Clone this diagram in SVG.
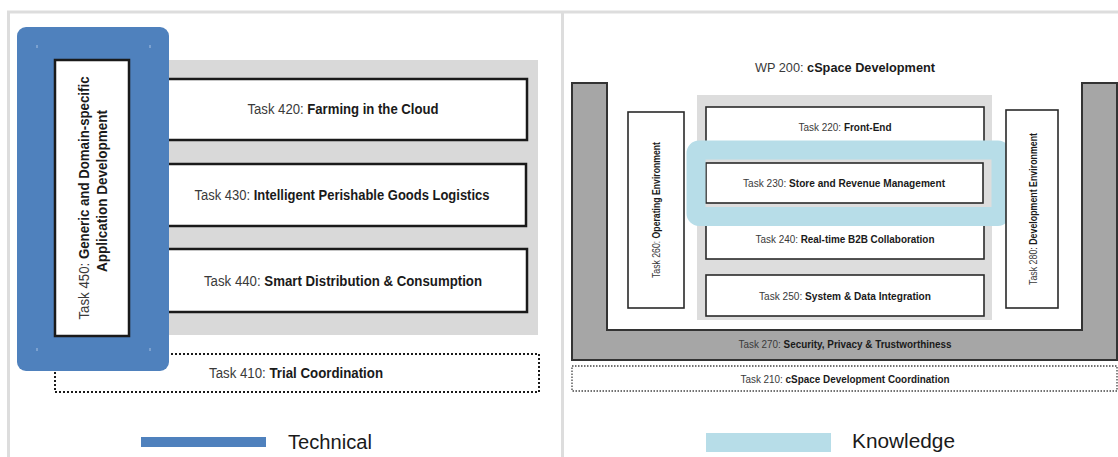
<svg xmlns="http://www.w3.org/2000/svg" width="1118" height="457" viewBox="0 0 1118 457">
<style>
text{font-family:"Liberation Sans",Arial,sans-serif;fill:#1a1a1a}
.n{font-weight:normal;fill:#3a3a3a}
.b{font-weight:bold}
.lt{font-size:14px}
.rt{font-size:10px}
.frame{stroke:#DDDDDD;stroke-width:3;fill:none}
.lbox{fill:#fff;stroke:#1a1a1a;stroke-width:2.5}
.rbox{fill:#fff;stroke:#2a2a2a;stroke-width:1.6}
.grey{fill:#D9D9D9}
</style>
<rect width="1118" height="457" fill="#fff"/>
<g id="frame">
<path class="frame" d="M8.5,457 V12 H1118 M562.5,12 V457"/>
</g>
<g id="connectors"/>
<!-- Left panel -->
<g id="wp400-bg"><rect class="grey" x="150" y="60" width="388" height="275"/></g>
<g id="task420"><rect class="lbox" x="150" y="79" width="377" height="61"/>
<text class="lt" x="343" y="114" text-anchor="middle" textLength="191" lengthAdjust="spacingAndGlyphs"><tspan class="n">Task 420: </tspan><tspan class="b">Farming in the Cloud</tspan></text></g>
<g id="task430"><rect class="lbox" x="150" y="164" width="376" height="62"/>
<text class="lt" x="342" y="200" text-anchor="middle" textLength="295" lengthAdjust="spacingAndGlyphs"><tspan class="n">Task 430: </tspan><tspan class="b">Intelligent Perishable Goods Logistics</tspan></text></g>
<g id="task440"><rect class="lbox" x="150" y="249" width="377" height="63"/>
<text class="lt" x="343" y="286" text-anchor="middle" textLength="278" lengthAdjust="spacingAndGlyphs"><tspan class="n">Task 440: </tspan><tspan class="b">Smart Distribution &amp; Consumption</tspan></text></g>
<g id="task410"><rect x="55" y="354" width="484" height="38" fill="#fff" stroke="#1a1a1a" stroke-width="2" stroke-dasharray="2 2"/>
<text class="lt" x="296" y="378" text-anchor="middle" textLength="174" lengthAdjust="spacingAndGlyphs"><tspan class="n">Task 410: </tspan><tspan class="b">Trial Coordination</tspan></text></g>
<g id="technical-highlight"><rect x="17" y="27" width="152" height="344" rx="9" fill="#4F81BD"/>
<g stroke="#A9C1E2" stroke-width="1"><line x1="37" y1="45" x2="37" y2="48"/><line x1="150" y1="45" x2="150" y2="48"/><line x1="37" y1="348" x2="37" y2="351"/><line x1="150" y1="348" x2="150" y2="351"/></g></g>
<g id="task450"><rect class="lbox" x="55" y="60" width="74" height="276"/>
<text class="lt" transform="translate(89,198) rotate(-90)" text-anchor="middle" textLength="243" lengthAdjust="spacingAndGlyphs"><tspan class="n">Task 450: </tspan><tspan class="b">Generic and Domain-specific</tspan></text>
<text class="lt b" transform="translate(107,191) rotate(-90)" text-anchor="middle" textLength="162" lengthAdjust="spacingAndGlyphs">Application Development</text></g>
<g id="legend-technical"><rect x="141" y="437" width="125" height="10" fill="#4F81BD"/>
<text x="288" y="449" font-size="20" textLength="84" lengthAdjust="spacingAndGlyphs" fill="#262626">Technical</text></g>
<!-- Right panel -->
<g id="wp200-title"><text x="845" y="72" font-size="13" text-anchor="middle" textLength="180" lengthAdjust="spacingAndGlyphs"><tspan class="n">WP 200: </tspan><tspan class="b">cSpace Development</tspan></text></g>
<g id="task270"><path d="M572,83 H607 V330 H1082 V83 H1117 V360 H572 Z" fill="#A6A6A6" stroke="#333" stroke-width="2"/>
<text class="rt" x="845" y="347.5" text-anchor="middle" textLength="213" lengthAdjust="spacingAndGlyphs"><tspan class="n">Task 270: </tspan><tspan class="b">Security, Privacy &amp; Trustworthiness</tspan></text></g>
<g id="task210"><rect x="572" y="366" width="545" height="25" fill="#fff" stroke="#444" stroke-width="1.3" stroke-dasharray="1.5 1.5"/>
<text class="rt" x="845" y="382.5" text-anchor="middle" textLength="209" lengthAdjust="spacingAndGlyphs"><tspan class="n">Task 210: </tspan><tspan class="b">cSpace Development Coordination</tspan></text></g>
<g id="core-bg"><rect x="697" y="95" width="295" height="225" fill="#DDDDDD"/></g>
<g id="task220"><rect class="rbox" x="706" y="107" width="278" height="41"/>
<text class="rt" x="845" y="130.5" text-anchor="middle" textLength="93" lengthAdjust="spacingAndGlyphs"><tspan class="n">Task 220: </tspan><tspan class="b">Front-End</tspan></text></g>
<g id="task230"><rect class="rbox" x="706" y="163" width="277" height="40"/>
<text class="rt" x="844" y="186.5" text-anchor="middle" textLength="202" lengthAdjust="spacingAndGlyphs"><tspan class="n">Task 230: </tspan><tspan class="b">Store and Revenue Management</tspan></text></g>
<g id="task240"><rect class="rbox" x="706" y="218" width="278" height="41"/>
<text class="rt" x="845" y="242.5" text-anchor="middle" textLength="179" lengthAdjust="spacingAndGlyphs"><tspan class="n">Task 240: </tspan><tspan class="b">Real-time B2B Collaboration</tspan></text></g>
<g id="task250"><rect class="rbox" x="706" y="275" width="278" height="41"/>
<text class="rt" x="845" y="299.5" text-anchor="middle" textLength="172" lengthAdjust="spacingAndGlyphs"><tspan class="n">Task 250: </tspan><tspan class="b">System &amp; Data Integration</tspan></text></g>
<g id="knowledge-highlight"><rect x="696" y="150" width="305" height="66.5" rx="3" fill="none" stroke="#B7DDE8" stroke-width="19"/></g>
<g id="task260"><rect class="rbox" x="628" y="112" width="56" height="196"/>
<text class="rt" transform="translate(659.5,210) rotate(-90)" text-anchor="middle" textLength="136" lengthAdjust="spacingAndGlyphs"><tspan class="n">Task 260: </tspan><tspan class="b">Operating Environment</tspan></text></g>
<g id="task280"><rect class="rbox" x="1006" y="110" width="52" height="198"/>
<text class="rt" transform="translate(1036.5,209) rotate(-90)" text-anchor="middle" textLength="152" lengthAdjust="spacingAndGlyphs"><tspan class="n">Task 280: </tspan><tspan class="b">Development Environment</tspan></text></g>
<g id="legend-knowledge"><rect x="706" y="433" width="125" height="19" fill="#B7DDE8"/>
<text x="852" y="448" font-size="21" textLength="103" lengthAdjust="spacingAndGlyphs" fill="#262626">Knowledge</text></g>
</svg>
